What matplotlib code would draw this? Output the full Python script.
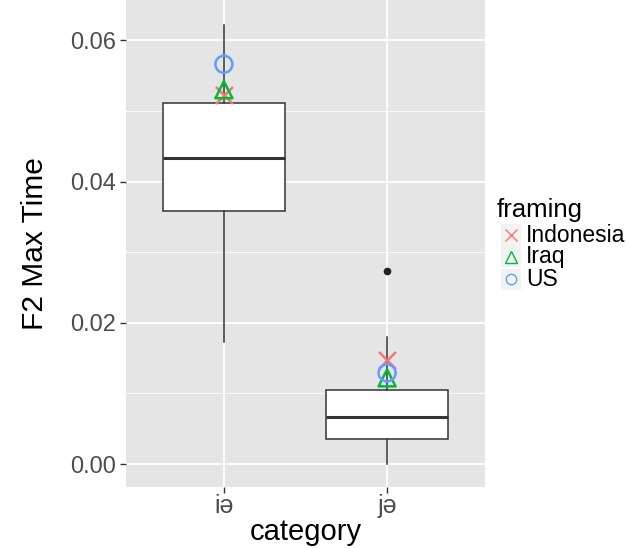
import matplotlib
matplotlib.use("Agg")
import matplotlib.pyplot as plt
from matplotlib.lines import Line2D
from matplotlib.patches import Rectangle

plt.rcParams['font.family'] = ['Liberation Sans', 'DejaVu Sans']

categories = ["iə", "jə"]

# five-number summaries per category
whisker_lo = [0.0173, 0.0000]
q1 = [0.0358, 0.00354]
medians = [0.0433, 0.00665]
q3 = [0.0511, 0.01047]
whisker_hi = [0.0621, 0.0180]
outliers = [[], [0.0273]]

# group means per framing
framings = ["Indonesia", "Iraq", "US"]
framing_means = {
    "Indonesia": [0.0522, 0.0147],
    "Iraq": [0.0530, 0.0122],
    "US": [0.0566, 0.0129],
}
framing_colors = {"Indonesia": "#F8766D", "Iraq": "#00BA38", "US": "#619CFF"}
framing_markers = {"Indonesia": "x", "Iraq": "^", "US": "o"}

W, H = 626, 548
fig = plt.figure(figsize=(W / 100, H / 100), dpi=100)
ax = fig.add_axes([126 / W, 61 / H, 359 / W, 487 / H])
ax.set_facecolor("#E5E5E5")

stats = []
for i, c in enumerate(categories):
    stats.append(dict(label=c, whislo=whisker_lo[i], q1=q1[i], med=medians[i],
                      q3=q3[i], whishi=whisker_hi[i], fliers=outliers[i]))

ax.bxp(stats, positions=[1, 2], widths=0.75, patch_artist=True, showcaps=False,
       boxprops=dict(facecolor="white", edgecolor="#333333", linewidth=1.1),
       medianprops=dict(color="#333333", linewidth=2.2),
       whiskerprops=dict(color="#333333", linewidth=1.1),
       flierprops=dict(marker="o", markerfacecolor="#222222", markeredgecolor="#222222",
                       markersize=4.5))

for f in framings:
    m = framing_markers[f]
    ax.scatter([1, 2], framing_means[f], marker=m, s=150,
               facecolors="none" if m != "x" else framing_colors[f],
               edgecolors=framing_colors[f], linewidths=1.8, zorder=5)

ax.set_xlim(0.4, 2.6)
ax.set_ylim(-0.00325, 0.0657)
ax.set_xticks([1, 2])
ax.set_xticklabels(categories)
ax.set_yticks([0.0, 0.02, 0.04, 0.06])
ax.set_yticklabels(["0.00", "0.02", "0.04", "0.06"])
ax.set_yticks([0.01, 0.03, 0.05], minor=True)

ax.grid(which="major", color="white", linewidth=1.3)
ax.grid(which="minor", axis="y", color="white", linewidth=0.6)
ax.set_axisbelow(True)
for s in ax.spines.values():
    s.set_visible(False)

ax.tick_params(which="major", length=4, width=1, color="#333333",
               labelsize=17, labelcolor="#4D4D4D", pad=3)
ax.tick_params(axis="x", labelsize=18, pad=1)
ax.tick_params(which="minor", length=0)

ax.set_xlabel("category", fontsize=21, color="black", labelpad=0)
ax.set_ylabel("F2 Max Time", fontsize=21.5, color="black", labelpad=15)

# legend, drawn by hand in ggplot style
fig.text(497 / W, 1 - 210 / H, "framing", fontsize=18.5, va="center", ha="left")
key_y = [235, 257, 279]
for f, ky in zip(framings, key_y):
    fig.add_artist(Rectangle((501 / W, 1 - (ky + 10.5) / H), 20 / W, 21 / H,
                             transform=fig.transFigure, facecolor="#F2F2F2",
                             edgecolor="none"))
    m = framing_markers[f]
    fig.add_artist(Line2D([511 / W], [1 - ky / H], transform=fig.transFigure,
                          linestyle="none", marker=m, markersize=8.5 if m != "o" else 7.5,
                          markerfacecolor="none" if m != "x" else framing_colors[f],
                          markeredgecolor=framing_colors[f], markeredgewidth=1.0))
    fig.text(526 / W, 1 - ky / H, f, fontsize=16.5, va="center", ha="left")

fig.savefig("out.png", dpi=100)
